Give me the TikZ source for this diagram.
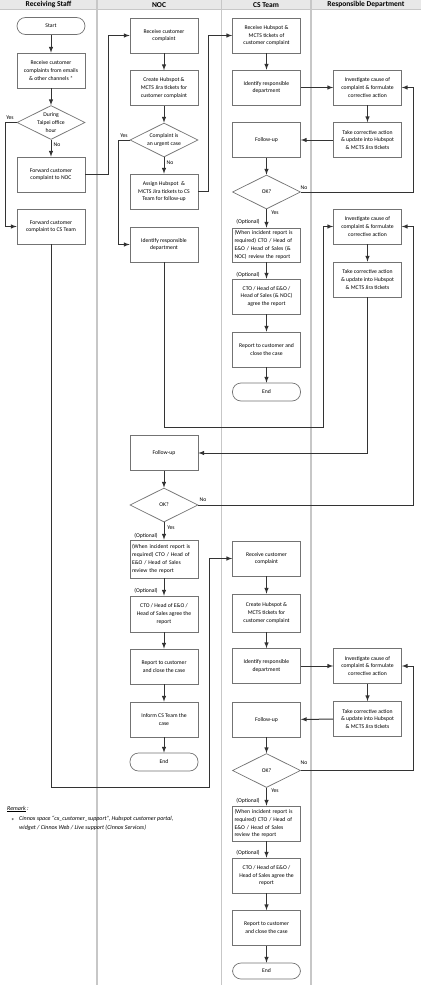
\documentclass[tikz,border=0pt]{standalone}
\usepackage{fontspec}
\setmainfont{Carlito}
\usepackage{tikz}
\usetikzlibrary{arrows}
\usetikzlibrary{shapes}
\usetikzlibrary{calc}
\usetikzlibrary{positioning}
\definecolor{lanegray}{rgb}{0.78,0.78,0.78}
\definecolor{headgray}{rgb}{0.91,0.91,0.91}
\newcommand{\boxfont}{\fontsize{5.7}{7.8}\selectfont}

\tikzset{
  box/.style={draw=black!55, fill=white, line width=0.7pt, minimum width=68pt,
    minimum height=35pt, inner sep=2pt, align=center, font=\boxfont},
  leftbox/.style={box, align=left, text width=64pt, inner sep=2pt},
  term/.style={box, rounded corners=8.5pt, minimum height=17pt},
  decide/.style={diamond, draw=black!55, fill=white, line width=0.7pt,
    minimum width=68pt, minimum height=34pt, inner sep=0pt,
    label={[font=\boxfont, align=center]center:#1}},
  flow/.style={draw=black!80, line width=1pt, -latex},
  tag/.style={font=\fontsize{5.7}{7}\selectfont, inner sep=0.5pt},
  lanehead/.style={font=\fontsize{7.5}{8}\selectfont\bfseries}
}

\begin{document}
\begin{tikzpicture}[x=1pt, y=-1pt]
  \useasboundingbox (0,0) rectangle (421,985);

  % swim lanes
  \fill[headgray] (0,0) rectangle (421,9.5);
  \draw[lanegray, line width=1pt] (0,9.5) -- (421,9.5);
  \foreach \x in {97, 221.5, 311} {
    \draw[lanegray, line width=1.2pt] (\x,0) -- (\x,985);
  }
  \node[lanehead] (hrs) at (48.5,4.8) {Receiving Staff};
  \node[lanehead] (hnoc) at (159,4.8) {NOC};
  \node[lanehead] (hcs) at (266,4.8) {CS Team};
  \node[lanehead] (hrd) at (366,4.8) {Responsible Department};

  % Receiving Staff
  \node[term] (start) at (51,26) {Start};
  \node[box] (rcv) at (51,70.5) {Receive customer\\complaints from emails\\\& other channels *};
  \node[decide={During\\Taipei office\\hour}] (hour) at (51,122.5) {};
  \node[box] (fwdnoc) at (51,174.5) {Forward customer\\complaint to NOC};
  \node[box] (fwdcs) at (51,226.5) {Forward customer\\complaint to CS Team};

  % NOC
  \node[box] (nrcv) at (164,35.5) {Receive customer\\complaint};
  \node[box] (ncreate) at (164,88) {Create Hubspot \&\\MCTS Jira tickets for\\customer complaint};
  \node[decide={Complaint is\\an urgent case}] (urgent) at (164,140) {};
  \node[box] (assign) at (164,191.5) {Assign Hubspot \ \&\\MCTS Jira tickets to CS\\Team for follow-up};
  \node[box] (nident) at (164,244.5) {Identify responsible\\department};
  \node[box] (nfollow) at (164,453) {Follow-up};
  \node[decide={OK?}] (nok) at (164,505) {};
  \node[leftbox, minimum height=38pt] (nreview) at (164,559) {(When incident report is\\required) CTO / Head of\\E\&O / Head of Sales\\review the report};
  \node[box, minimum height=36pt] (nagree) at (164,614) {CTO / Head of E\&O /\\Head of Sales agree the\\report};
  \node[box] (nclose) at (164,666.5) {Report to customer\\and close the case};
  \node[box] (ninform) at (164,719.5) {Inform CS Team the\\case};
  \node[term, minimum height=18pt] (nend) at (164,762) {End};

  % CS Team
  \node[box] (crcv) at (266.5,35.5) {Receive Hubspot \&\\MCTS tickets of\\customer complaint};
  \node[box] (cident) at (266.5,87.5) {Identify responsible\\department};
  \node[box] (cfollow) at (266.5,140) {Follow-up};
  \node[decide={OK?}] (cok) at (266.5,192) {};
  \node[leftbox, minimum height=34pt] (creview) at (266.5,245) {(When incident report is\\required) CTO / Head of\\E\&O / Head of Sales (\&\\NOC) review the report};
  \node[box] (cagree) at (266.5,296.5) {CTO / Head of E\&O /\\Head of Sales (\& NOC)\\agree the report};
  \node[box] (cclose) at (266.5,349.5) {Report to customer and\\close the case};
  \node[term, minimum height=18pt] (cend) at (266.5,392) {End};

  \node[box] (crcv2) at (266.5,558.5) {Receive customer\\complaint};
  \node[box, minimum height=38pt] (ccreate2) at (266.5,613) {Create Hubspot \&\\MCTS tickets for\\customer complaint};
  \node[box] (cident2) at (266.5,666) {Identify responsible\\department};
  \node[box] (cfollow2) at (266.5,719.5) {Follow-up};
  \node[decide={OK?}] (cok2) at (266.5,770.5) {};
  \node[leftbox] (creview2) at (266.5,823.5) {(When incident report is\\required) CTO / Head of\\E\&O / Head of Sales\\review the report};
  \node[box] (cagree2) at (266.5,875.5) {CTO / Head of E\&O /\\Head of Sales agree the\\report};
  \node[box] (cclose2) at (266.5,928) {Report to customer\\and close the case};
  \node[term, minimum height=16pt] (cend2) at (266.5,971) {End};

  % Responsible Department
  \node[box] (rinv) at (367.5,87.5) {Investigate cause of\\complaint \& formulate\\corrective action};
  \node[box] (rtake) at (367.5,140) {Take corrective action\\\& update into Hubspot\\\& MCTS Jira tickets};
  \node[box] (rinv2) at (367.5,226.5) {Investigate cause of\\complaint \& formulate\\corrective action};
  \node[box] (rtake2) at (367.5,279.5) {Take corrective action\\\& update into Hubspot\\\& MCTS Jira tickets};
  \node[box] (rinv3) at (367.5,666) {Investigate cause of\\complaint \& formulate\\corrective action};
  \node[box] (rtake3) at (367.5,719) {Take corrective action\\\& update into Hubspot\\\& MCTS Jira tickets};

  % connectors
  \draw[flow] (start) -- (rcv);
  \draw[flow] (rcv) -- (hour);
  \draw[flow] (hour) -- (fwdnoc);
  \draw[flow] (hour.west) -- ++(-11,0) |- (fwdcs.west);
  \draw[flow] (fwdnoc.east) -- ++(23,0) |- (nrcv.west);
  \draw[flow] (fwdcs.south) |- (209,787) |- (crcv2.west);

  \draw[flow] (nrcv) -- (ncreate);
  \draw[flow] (ncreate) -- (urgent);
  \draw[flow] (urgent) -- (assign);
  \draw[flow] (urgent.west) -- ++(-11,0) |- (nident.west);
  \draw[flow] (assign.east) -- ++(10,0) |- (crcv.west);
  \draw[flow] (nident.south) |- (323,427) |- (rinv2.west);
  \draw[flow] (nfollow) -- (nok);
  \draw[flow] (nok.east) -- ++(215,0) |- (rinv2.east);
  \draw[flow] (nok) -- (nreview);
  \draw[flow] (nreview) -- (nagree);
  \draw[flow] (nagree) -- (nclose);
  \draw[flow] (nclose) -- (ninform);
  \draw[flow] (ninform) -- (nend);

  \draw[flow] (crcv) -- (cident);
  \draw[flow] (cident) -- (rinv);
  \draw[flow] (rinv) -- (rtake);
  \draw[flow] (rtake) -- (cfollow);
  \draw[flow] (cfollow) -- (cok);
  \draw[flow] (cok.east) -- ++(113,0) |- (rinv.east);
  \draw[flow] (cok) -- (creview);
  \draw[flow] (creview) -- (cagree);
  \draw[flow] (cagree) -- (cclose);
  \draw[flow] (cclose) -- (cend);

  \draw[flow] (rinv2) -- (rtake2);
  \draw[flow] (rtake2.south) |- (nfollow.east);

  \draw[flow] (crcv2) -- (ccreate2);
  \draw[flow] (ccreate2) -- (cident2);
  \draw[flow] (cident2) -- (rinv3);
  \draw[flow] (rinv3) -- (rtake3);
  \draw[flow] (rtake3) -- (cfollow2);
  \draw[flow] (cfollow2) -- (cok2);
  \draw[flow] (cok2.east) -- ++(113,0) |- (rinv3.east);
  \draw[flow] (cok2) -- (creview2);
  \draw[flow] (creview2) -- (cagree2);
  \draw[flow] (cagree2) -- (cclose2);
  \draw[flow] (cclose2) -- (cend2);

  % yes / no / optional
  \node[tag] (yhour) at (10,118) {Yes};
  \node[tag] (nhour) at (57,145) {No};
  \node[tag] (yurg) at (124,136) {Yes};
  \node[tag] (nurg) at (170,163) {No};
  \node[tag] (ncok) at (304,188) {No};
  \node[tag] (ycok) at (275,213) {Yes};
  \node[tag] (opt1) at (248,222) {(Optional)};
  \node[tag] (opt2) at (248,275) {(Optional)};
  \node[tag] (nnok) at (203,500) {No};
  \node[tag] (ynok) at (171,528) {Yes};
  \node[tag] (opt3) at (146,536) {(Optional)};
  \node[tag] (opt4) at (146,591) {(Optional)};
  \node[tag] (ncok2) at (304,763) {No};
  \node[tag] (ycok2) at (275,791) {Yes};
  \node[tag] (opt5) at (248,801) {(Optional)};
  \node[tag] (opt6) at (248,853) {(Optional)};

  % remark
  \node[anchor=west, inner sep=0pt, font=\fontsize{6}{8}\selectfont\itshape] (remark) at (7,809) {\underline{Remark} :};
  \node[anchor=west, inner sep=0pt, font=\fontsize{7}{8}\selectfont] (star) at (11,821) {*};
  \node[anchor=north west, inner sep=0pt, align=left, font=\fontsize{6}{8.5}\selectfont\itshape] (note) at (19,816)
    {Cinnox space ``cx\_customer\_support'', Hubspot customer portal,\\widget / Cinnox Web / Live support (Cinnox Services)};
\end{tikzpicture}
\end{document}
